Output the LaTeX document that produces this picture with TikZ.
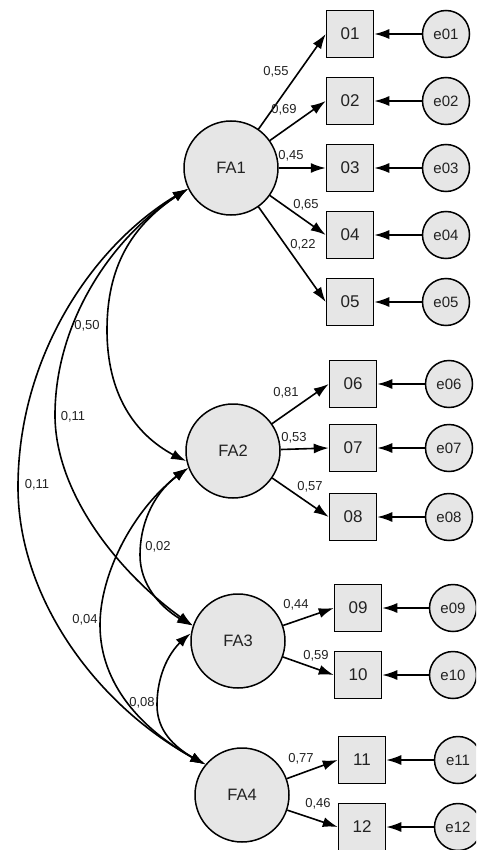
\documentclass[tikz,border=0pt]{standalone}
\usepackage{fontspec}
\setmainfont{Liberation Sans}
\usetikzlibrary{arrows.meta,bending}
\definecolor{nodefill}{HTML}{E6E6E6}
\definecolor{txt}{HTML}{222222}
\begin{document}
\begin{tikzpicture}[x=1pt,y=-1pt,
  every node/.append style={text=txt},
  factor/.style={circle,draw,line width=1.5pt,fill=nodefill,minimum size=94pt,inner sep=0pt,font=\fontsize{16.5}{17}\selectfont},
  item/.style={rectangle,draw,line width=1.5pt,fill=nodefill,minimum size=47pt,inner sep=0pt,font=\fontsize{17}{18}\selectfont},
  err/.style={circle,draw,line width=1.5pt,fill=nodefill,minimum size=47pt,inner sep=0pt,font=\fontsize{15}{16}\selectfont},
  load/.style={-{Latex[length=15pt,width=10pt]},line width=1.6pt},
  cov/.style={{Latex[length=15pt,width=10pt,bend]}-{Latex[length=15pt,width=10pt,bend]},line width=1.6pt},
  val/.style={font=\fontsize{13}{14}\selectfont,inner sep=0pt}]
\useasboundingbox (0,0) rectangle (476,850);
\begin{scope}
\clip (0,0) rectangle (476,850);
% factors
\node[factor] (FA1) at (231,168) {FA1};
\node[factor] (FA2) at (233,451) {FA2};
\node[factor] (FA3) at (238,641) {FA3};
\node[factor] (FA4) at (242,795) {FA4};
% items
\node[item] (i01) at (350,34) {01};
\node[item] (i02) at (350,101) {02};
\node[item] (i03) at (350,168) {03};
\node[item] (i04) at (350,235) {04};
\node[item] (i05) at (350,302) {05};
\node[item] (i06) at (353,384) {06};
\node[item] (i07) at (353,448) {07};
\node[item] (i08) at (353,517) {08};
\node[item] (i09) at (358,608) {09};
\node[item] (i10) at (358,675) {10};
\node[item] (i11) at (362,760) {11};
\node[item] (i12) at (362,827) {12};
% errors
\node[err] (e01) at (446,34) {e01};
\node[err] (e02) at (446,101) {e02};
\node[err] (e03) at (446,168) {e03};
\node[err] (e04) at (446,235) {e04};
\node[err] (e05) at (446,302) {e05};
\node[err] (e06) at (449,384) {e06};
\node[err] (e07) at (449,448) {e07};
\node[err] (e08) at (449,517) {e08};
\node[err] (e09) at (453,608) {e09};
\node[err] (e10) at (453,675) {e10};
\node[err] (e11) at (458,760) {e11};
\node[err] (e12) at (458,827) {e12};
% error arrows
\foreach \n in {01,02,03,04,05,06,07,08,09,10,11,12}
  \draw[load] (e\n) -- (i\n.east);
% loadings
\draw[load] (FA1) -- (i01.west);
\draw[load] (FA1) -- (i02.west);
\draw[load] (FA1) -- (i03.west);
\draw[load] (FA1) -- (i04.west);
\draw[load] (FA1) -- (i05.west);
\draw[load] (FA2) -- (i06.west);
\draw[load] (FA2) -- (i07.west);
\draw[load] (FA2) -- (i08.west);
\draw[load] (FA3) -- (i09.west);
\draw[load] (FA3) -- (i10.west);
\draw[load] (FA4) -- (i11.west);
\draw[load] (FA4) -- (i12.west);
% loading values
\node[val] (l01) at (276,72) {0,55};
\node[val] (l02) at (284,110) {0,69};
\node[val] (l03) at (291,156) {0,45};
\node[val] (l04) at (306,205) {0,65};
\node[val] (l05) at (303,245) {0,22};
\node[val] (l06) at (286,393) {0,81};
\node[val] (l07) at (294,438) {0,53};
\node[val] (l08) at (310,487) {0,57};
\node[val] (l09) at (296,605) {0,44};
\node[val] (l10) at (316,656) {0,59};
\node[val] (l11) at (301,759) {0,77};
\node[val] (l12) at (318,804) {0,46};
% covariances
\draw[cov] (FA1.206) .. controls (135,220) and (107,262) .. (107,330)
   .. controls (107,400) and (140,442) .. (FA2.192);
\draw[cov] (FA1.206) .. controls (115,230) and (55,320) .. (55,415)
   .. controls (55,500) and (130,585) .. (FA3.161);
\draw[cov] (FA1.206) .. controls (100,235) and (18,350) .. (18,487)
   .. controls (18,600) and (100,712) .. (FA4.140);
\draw[cov] (FA2.201) .. controls (155,487) and (140,522) .. (140,555)
   .. controls (140,590) and (168,615) .. (FA3.161);
\draw[cov] (FA2.201) .. controls (138,500) and (100,570) .. (100,625)
   .. controls (100,690) and (150,737) .. (FA4.140);
\draw[cov] (FA3.171) .. controls (166,650) and (157,680) .. (157,705)
   .. controls (157,735) and (180,752) .. (FA4.140);
% covariance values
\node[val] (c12) at (87,326) {0,50};
\node[val] (c13) at (73,417) {0,11};
\node[val] (c14) at (37,485) {0,11};
\node[val] (c23) at (158,547) {0,02};
\node[val] (c24) at (85,620) {0,04};
\node[val] (c34) at (142,703) {0,08};
\end{scope}
\end{tikzpicture}
\end{document}
